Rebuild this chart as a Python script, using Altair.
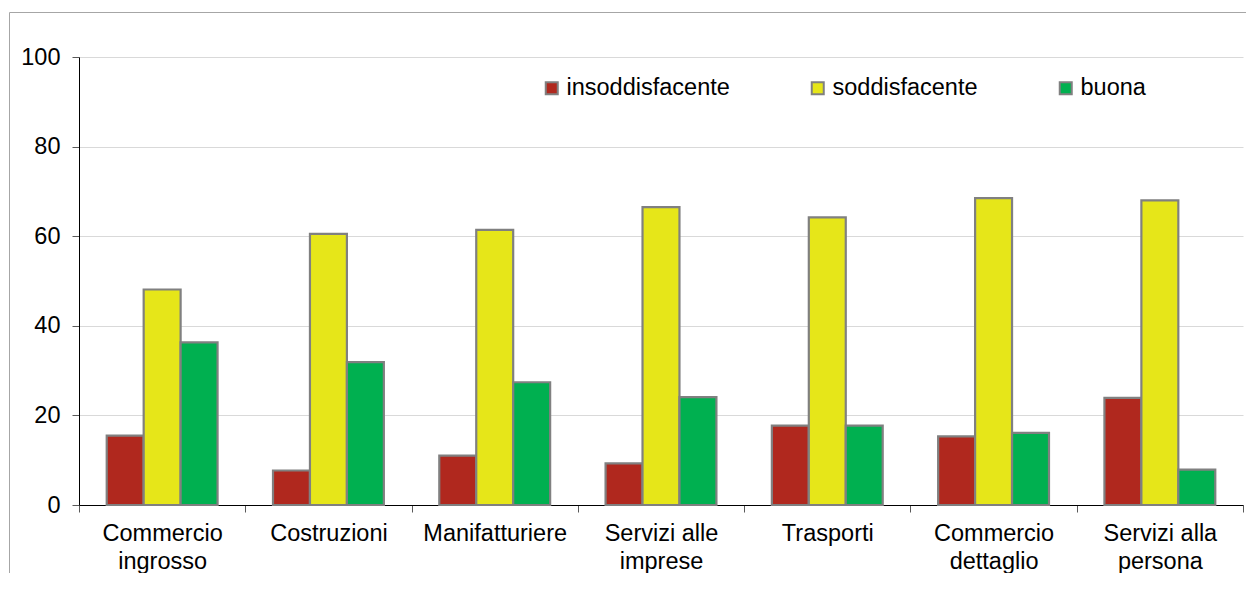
import altair as alt
import pandas as pd

# ---- data ----
categorie = [
    "Commercio\ningrosso",
    "Costruzioni",
    "Manifatturiere",
    "Servizi alle\nimprese",
    "Trasporti",
    "Commercio\ndettaglio",
    "Servizi alla\npersona",
]
serie = ["insoddisfacente", "soddisfacente", "buona"]
insoddisfacente = [15.5, 7.7, 11.0, 9.3, 17.7, 15.3, 23.9]
soddisfacente = [48.1, 60.5, 61.4, 66.5, 64.2, 68.5, 68.0]
buona = [36.3, 31.9, 27.4, 24.1, 17.7, 16.1, 7.9]
colori = ["#B0281E", "#E6E619", "#00B050"]
y_ticks = [0, 20, 40, 60, 80, 100]

rows = []
for i, c in enumerate(categorie):
    for s, vals in zip(serie, [insoddisfacente, soddisfacente, buona]):
        rows.append({"categoria": c, "serie": s, "valore": vals[i]})
df = pd.DataFrame(rows)

W, H = 1164, 448
FONT = "Liberation Sans"
FS = 23.5

bars = alt.Chart(df).mark_bar(stroke="#808080", strokeWidth=2.2).encode(
    x=alt.X(
        "categoria:N",
        sort=categorie,
        scale=alt.Scale(paddingInner=0, paddingOuter=0),
        axis=alt.Axis(
            title=None,
            labelAngle=0,
            labelExpr="split(datum.label, '\\n')",
            tickBand="extent",
            domainColor="black",
            domainWidth=1,
            tickColor="#595959",
            tickSize=7,
            labelFont=FONT,
            labelFontSize=FS,
            labelColor="black",
            labelPadding=9,
            labelLineHeight=28,
            labelOverlap=False,
            grid=False,
        ),
    ),
    xOffset=alt.XOffset(
        "serie:N", sort=serie, scale=alt.Scale(paddingInner=0, paddingOuter=0.75)
    ),
    y=alt.Y(
        "valore:Q",
        scale=alt.Scale(domain=[0, 100], nice=False),
        axis=alt.Axis(
            title=None,
            values=y_ticks,
            grid=True,
            gridColor="#D9D9D9",
            gridWidth=1,
            domainColor="black",
            domainWidth=1,
            tickColor="#595959",
            tickSize=7,
            labelFont=FONT,
            labelFontSize=FS,
            labelColor="black",
            labelPadding=12,
        ),
    ),
    color=alt.Color(
        "serie:N",
        sort=serie,
        scale=alt.Scale(domain=serie, range=colori),
        legend=alt.Legend(
            title=None,
            orient="none",
            legendX=461,
            legendY=19,
            direction="horizontal",
            columns=3,
            symbolType="square",
            symbolSize=144,
            symbolStrokeColor="#808080",
            symbolStrokeWidth=2,
            symbolOpacity=1,
            labelFont=FONT,
            labelFontSize=FS,
            labelColor="black",
            labelOffset=3,
            labelLimit=400,
            columnPadding=76,
        ),
    ),
)

frame = alt.Chart(pd.DataFrame({"k": [0]})).mark_rect(
    fill="transparent", stroke="#A6A6A6", strokeWidth=1
).encode(
    x=alt.value(-69.5), x2=alt.value(3000), y=alt.value(-44.5), y2=alt.value(3000)
)

chart = alt.layer(frame, bars).properties(
    width=W,
    height=H,
    autosize=alt.AutoSizeParams(type="none"),
    padding={"left": 71, "top": 49, "right": 3, "bottom": 68},
).configure_view(stroke=None)

chart.save("out.html", embed_options={"renderer": "svg", "actions": False})
